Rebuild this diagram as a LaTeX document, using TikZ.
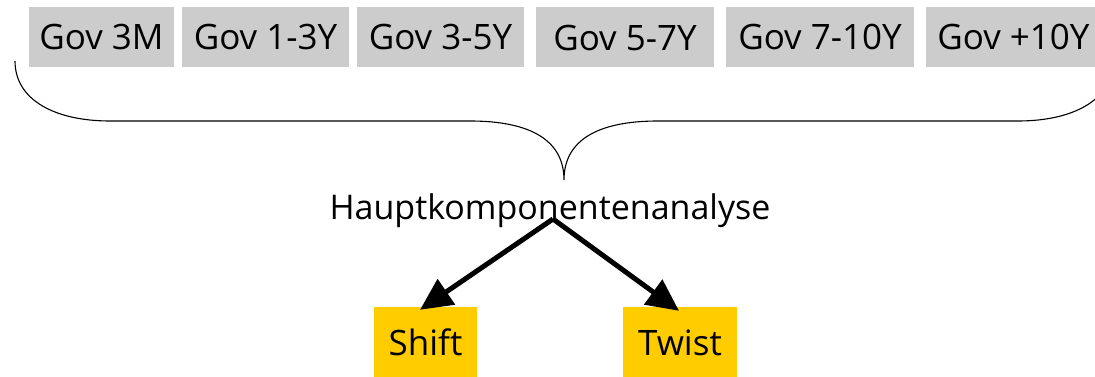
\documentclass[tikz,border=0pt]{standalone}
\usepackage{fontspec}
\setmainfont{Open Sans}
\usetikzlibrary{arrows.meta}
\definecolor{boxgray}{HTML}{CCCCCC}
\definecolor{boxyellow}{HTML}{FFCC00}
\begin{document}
\begin{tikzpicture}[x=1pt,y=-1pt,
  govbox/.style={fill=boxgray, inner sep=0pt, minimum height=60pt, text height=26pt, text depth=0pt,
     font=\fontsize{35}{40}\selectfont},
  compbox/.style={fill=boxyellow, inner sep=0pt, minimum height=70pt, text height=26pt, text depth=0pt,
     font=\fontsize{35}{40}\selectfont},
  bigarrow/.style={line width=5pt, -{Triangle[length=32pt,width=30pt]}},
  bracestyle/.style={line width=1.1pt}]
\useasboundingbox (0,0) rectangle (1095,377);
\clip (0,0) rectangle (1095,377);
\node[govbox, minimum width=145pt] (g1) at (101.5,37) {Gov 3M};
\node[govbox, minimum width=167pt] (g2) at (265.5,37) {Gov 1-3Y};
\node[govbox, minimum width=167pt] (g3) at (440.5,37) {Gov 3-5Y};
\node[govbox, minimum width=178pt] (g4) at (625,37.5) {Gov 5-7Y};
\node[govbox, minimum width=188pt] (g5) at (820,37) {Gov 7-10Y};
\node[govbox, minimum width=175pt] (g6) at (1013.5,37) {Gov +10Y};
% brace
\coordinate (bl) at (15,61);
\coordinate (btip) at (564,180);
\coordinate (br) at (1113,61);
\draw[bracestyle] (bl) .. controls (15,100) and (55,121) .. (110,121)
  -- (470,121) .. controls (530,121) and (564,140) .. (btip)
  .. controls (564,140) and (598,121) .. (658,121)
  -- (1018,121) .. controls (1073,121) and (1113,100) .. (br);
\node[inner sep=0pt, anchor=base, font=\fontsize{34}{40}\selectfont] (hk) at (550,219) {Hauptkomponentenanalyse};
\node[compbox, minimum width=103pt] (sh) at (425.5,342) {Shift};
\node[compbox, minimum width=114pt] (tw) at (680,342) {Twist};
\coordinate (src) at ([xshift=3pt]hk.base);
\draw[bigarrow] (src) -- ([xshift=-5.5pt,yshift=-3pt]sh.north);
\draw[bigarrow] (src) -- ([xshift=-1pt,yshift=-4pt]tw.north);
\end{tikzpicture}
\end{document}
